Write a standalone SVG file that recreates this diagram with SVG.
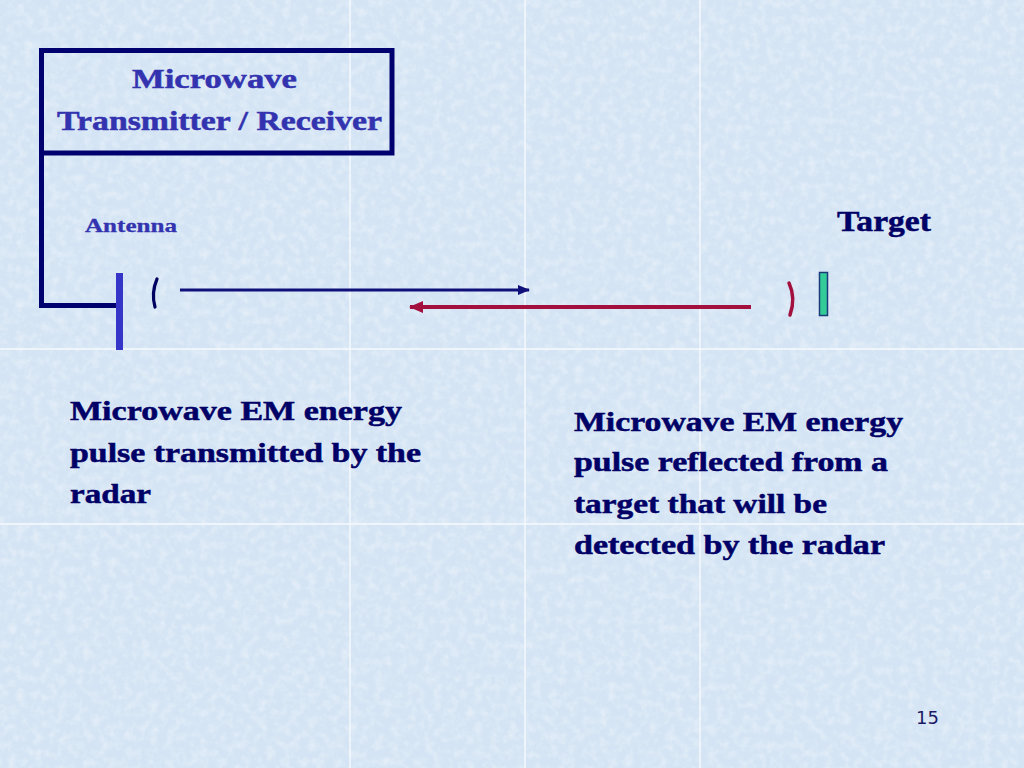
<svg xmlns="http://www.w3.org/2000/svg" width="1024" height="768" viewBox="0 0 1024 768">
<style>
.serif{font-family:"Liberation Serif","Times New Roman",serif;font-weight:bold}
.title{font-size:28px;fill:#3333b0;stroke:#3333b0;stroke-width:0.5}
.body{font-size:28px;fill:#000066;stroke:#000066;stroke-width:0.5}
.grid{stroke:#f6fafd;stroke-width:1.4}
</style>
<defs>
<filter id="tex" x="0" y="0" width="100%" height="100%">
<feTurbulence type="fractalNoise" baseFrequency="0.12" numOctaves="3" seed="3"/>
<feColorMatrix type="matrix" values="0 0 0 0 1  0 0 0 0 1  0 0 0 0 1  0 0 0 -1.4 0.85"/>
</filter>
<marker id="headBlue" viewBox="0 0 12 10" refX="11" refY="5" markerWidth="12" markerHeight="10" markerUnits="userSpaceOnUse" orient="auto">
<path d="M0,0 L12,5 L0,10 Z" fill="#10107a"/>
</marker>
<marker id="headRed" viewBox="0 0 14 12" refX="13" refY="6" markerWidth="14" markerHeight="12" markerUnits="userSpaceOnUse" orient="auto">
<path d="M0,0 L14,6 L0,12 Z" fill="#a3103e"/>
</marker>
</defs>
<g id="background">
<rect x="0" y="0" width="1024" height="768" fill="#d4e4f4"/>
<rect x="0" y="0" width="1024" height="768" filter="url(#tex)" opacity="0.5"/>
<line class="grid" x1="350" y1="0" x2="350" y2="768"/>
<line class="grid" x1="525" y1="0" x2="525" y2="768"/>
<line class="grid" x1="700" y1="0" x2="700" y2="768"/>
<line class="grid" x1="0" y1="349" x2="1024" y2="349"/>
<line class="grid" x1="0" y1="524" x2="1024" y2="524"/>
</g>
<g id="transceiver">
<rect x="41.5" y="50.5" width="350.5" height="102.5" fill="none" stroke="#00006e" stroke-width="5"/>
<text class="serif title" x="214.5" y="88" text-anchor="middle" textLength="165" lengthAdjust="spacingAndGlyphs">Microwave</text>
<text class="serif title" x="57" y="130" textLength="325" lengthAdjust="spacingAndGlyphs">Transmitter / Receiver</text>
</g>
<g id="connectors">
<path d="M41.5,153 V305.5 H118" fill="none" stroke="#00006e" stroke-width="5"/>
<line x1="180" y1="290" x2="529" y2="290" stroke="#10107a" stroke-width="3" marker-end="url(#headBlue)"/>
<line x1="751" y1="307" x2="410" y2="307" stroke="#a3103e" stroke-width="4" marker-end="url(#headRed)"/>
</g>
<g id="antenna">
<rect x="116" y="273" width="7" height="77" fill="#3535c8"/>
<text class="serif" x="85" y="232" font-size="19" fill="#3333b0" stroke="#3333b0" stroke-width="0.3" textLength="92" lengthAdjust="spacingAndGlyphs">Antenna</text>
<path d="M157,279 Q151,293 155,307" fill="none" stroke="#000060" stroke-width="3.2" stroke-linecap="round"/>
</g>
<g id="target">
<text class="serif" x="837" y="231" font-size="30" fill="#000066" stroke="#000066" stroke-width="0.5" textLength="94" lengthAdjust="spacingAndGlyphs">Target</text>
<rect x="819.5" y="272.5" width="8" height="43" fill="#33cc99" stroke="#1a3a7a" stroke-width="1.5"/>
<path d="M789,283 Q796,298 790,315" fill="none" stroke="#a3103e" stroke-width="3.5" stroke-linecap="round"/>
</g>
<g id="label-transmitted">
<text class="serif body" x="70" y="420" textLength="332" lengthAdjust="spacingAndGlyphs">Microwave EM energy</text>
<text class="serif body" x="70" y="462" textLength="351" lengthAdjust="spacingAndGlyphs">pulse transmitted by the</text>
<text class="serif body" x="70" y="503" textLength="81" lengthAdjust="spacingAndGlyphs">radar</text>
</g>
<g id="label-reflected">
<text class="serif body" x="574" y="431" textLength="329" lengthAdjust="spacingAndGlyphs">Microwave EM energy</text>
<text class="serif body" x="574" y="471" textLength="314" lengthAdjust="spacingAndGlyphs">pulse reflected from a</text>
<text class="serif body" x="574" y="513" textLength="253" lengthAdjust="spacingAndGlyphs">target that will be</text>
<text class="serif body" x="574" y="554" textLength="311" lengthAdjust="spacingAndGlyphs">detected by the radar</text>
</g>
<g id="page-number">
<text x="916" y="724" font-family="DejaVu Sans, Verdana, sans-serif" font-size="18" fill="#1a1a66">15</text>
</g>
</svg>
